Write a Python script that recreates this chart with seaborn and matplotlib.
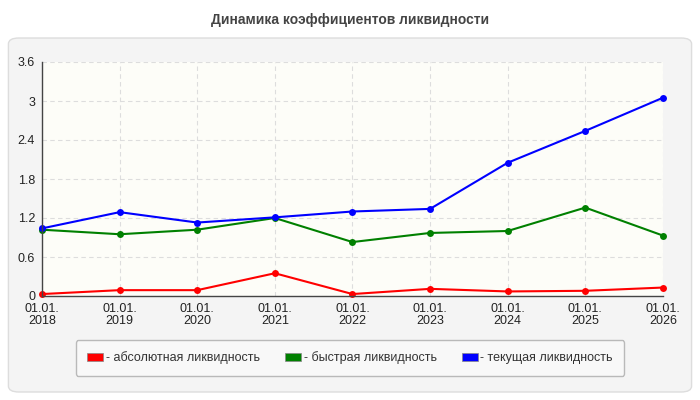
import matplotlib
matplotlib.use("Agg")
import matplotlib.pyplot as plt
import seaborn as sns
import pandas as pd
from matplotlib.patches import FancyBboxPatch

dates = ["01.01.\n2018", "01.01.\n2019", "01.01.\n2020", "01.01.\n2021", "01.01.\n2022",
         "01.01.\n2023", "01.01.\n2024", "01.01.\n2025", "01.01.\n2026"]
absolute = [0.03, 0.09, 0.09, 0.35, 0.03, 0.11, 0.07, 0.08, 0.13]
quick = [1.02, 0.95, 1.02, 1.20, 0.83, 0.97, 1.00, 1.36, 0.93]
current = [1.04, 1.29, 1.13, 1.21, 1.30, 1.34, 2.05, 2.54, 3.05]
names = ["- абсолютная ликвидность", "- быстрая ликвидность", "- текущая ликвидность"]
colors = ["#ff0000", "#008000", "#0000ff"]

rows = []
for name, vals in zip(names, [absolute, quick, current]):
    for i, v in enumerate(vals):
        rows.append({"x": i, "value": v, "series": name})
df = pd.DataFrame(rows)

sns.set_theme(style="white")
plt.rcParams["font.family"] = ["Liberation Sans", "DejaVu Sans"]

fig = plt.figure(figsize=(7, 4), dpi=100)
fig.patch.set_facecolor("white")
panel = FancyBboxPatch((0.012, 0.02), 0.976, 0.885, boxstyle="round,pad=0,rounding_size=0.015",
                       transform=fig.transFigure, facecolor="#f4f4f4", edgecolor="#dddddd",
                       lw=1, zorder=-10)
fig.patches.append(panel)
fig.text(0.5, 0.95, "Динамика коэффициентов ликвидности", ha="center", va="center",
         fontsize=10, fontweight="bold", color="#444444")

ax = fig.add_axes([0.06, 0.26, 0.887, 0.585])
ax.set_facecolor("#fdfdf8")
sns.lineplot(data=df, x="x", y="value", hue="series", palette=colors, marker="o",
             markersize=5, markeredgewidth=0, linewidth=1.5, ax=ax, legend=False)
ax.set_xlim(0, 8)
ax.set_ylim(0, 3.6)
ax.set_xticks(range(9))
ax.set_xticklabels(dates, fontsize=9, color="#222222", linespacing=1.0)
ax.set_yticks([0, 0.6, 1.2, 1.8, 2.4, 3, 3.6])
ax.set_yticklabels(["0", "0.6", "1.2", "1.8", "2.4", "3", "3.6"], fontsize=9, color="#222222")
ax.tick_params(axis="both", length=3, color="#444444", pad=2)
ax.grid(True, color="#dddddd", linestyle=(0, (4, 3)), linewidth=0.8)
ax.set_xlabel("")
ax.set_ylabel("")
for side in ["top", "right"]:
    ax.spines[side].set_visible(False)
for side in ["left", "bottom"]:
    ax.spines[side].set_color("#444444")
    ax.spines[side].set_linewidth(1)
for line in ax.lines:
    line.set_clip_on(False)

handles = [plt.Rectangle((0, 0), 1, 1, facecolor=c, edgecolor="#888888", lw=0.5) for c in colors]
leg = fig.legend(handles, names, loc="center", bbox_to_anchor=(0.5, 0.105), ncol=3,
                 fontsize=9, frameon=True, handlelength=1.3, handleheight=0.6,
                 handletextpad=0.2, columnspacing=2.0, borderpad=0.9, fancybox=True)
leg.get_frame().set_facecolor("#fafafa")
leg.get_frame().set_edgecolor("#aaaaaa")
for t in leg.get_texts():
    t.set_color("#333333")

fig.savefig("out.png", dpi=100)
